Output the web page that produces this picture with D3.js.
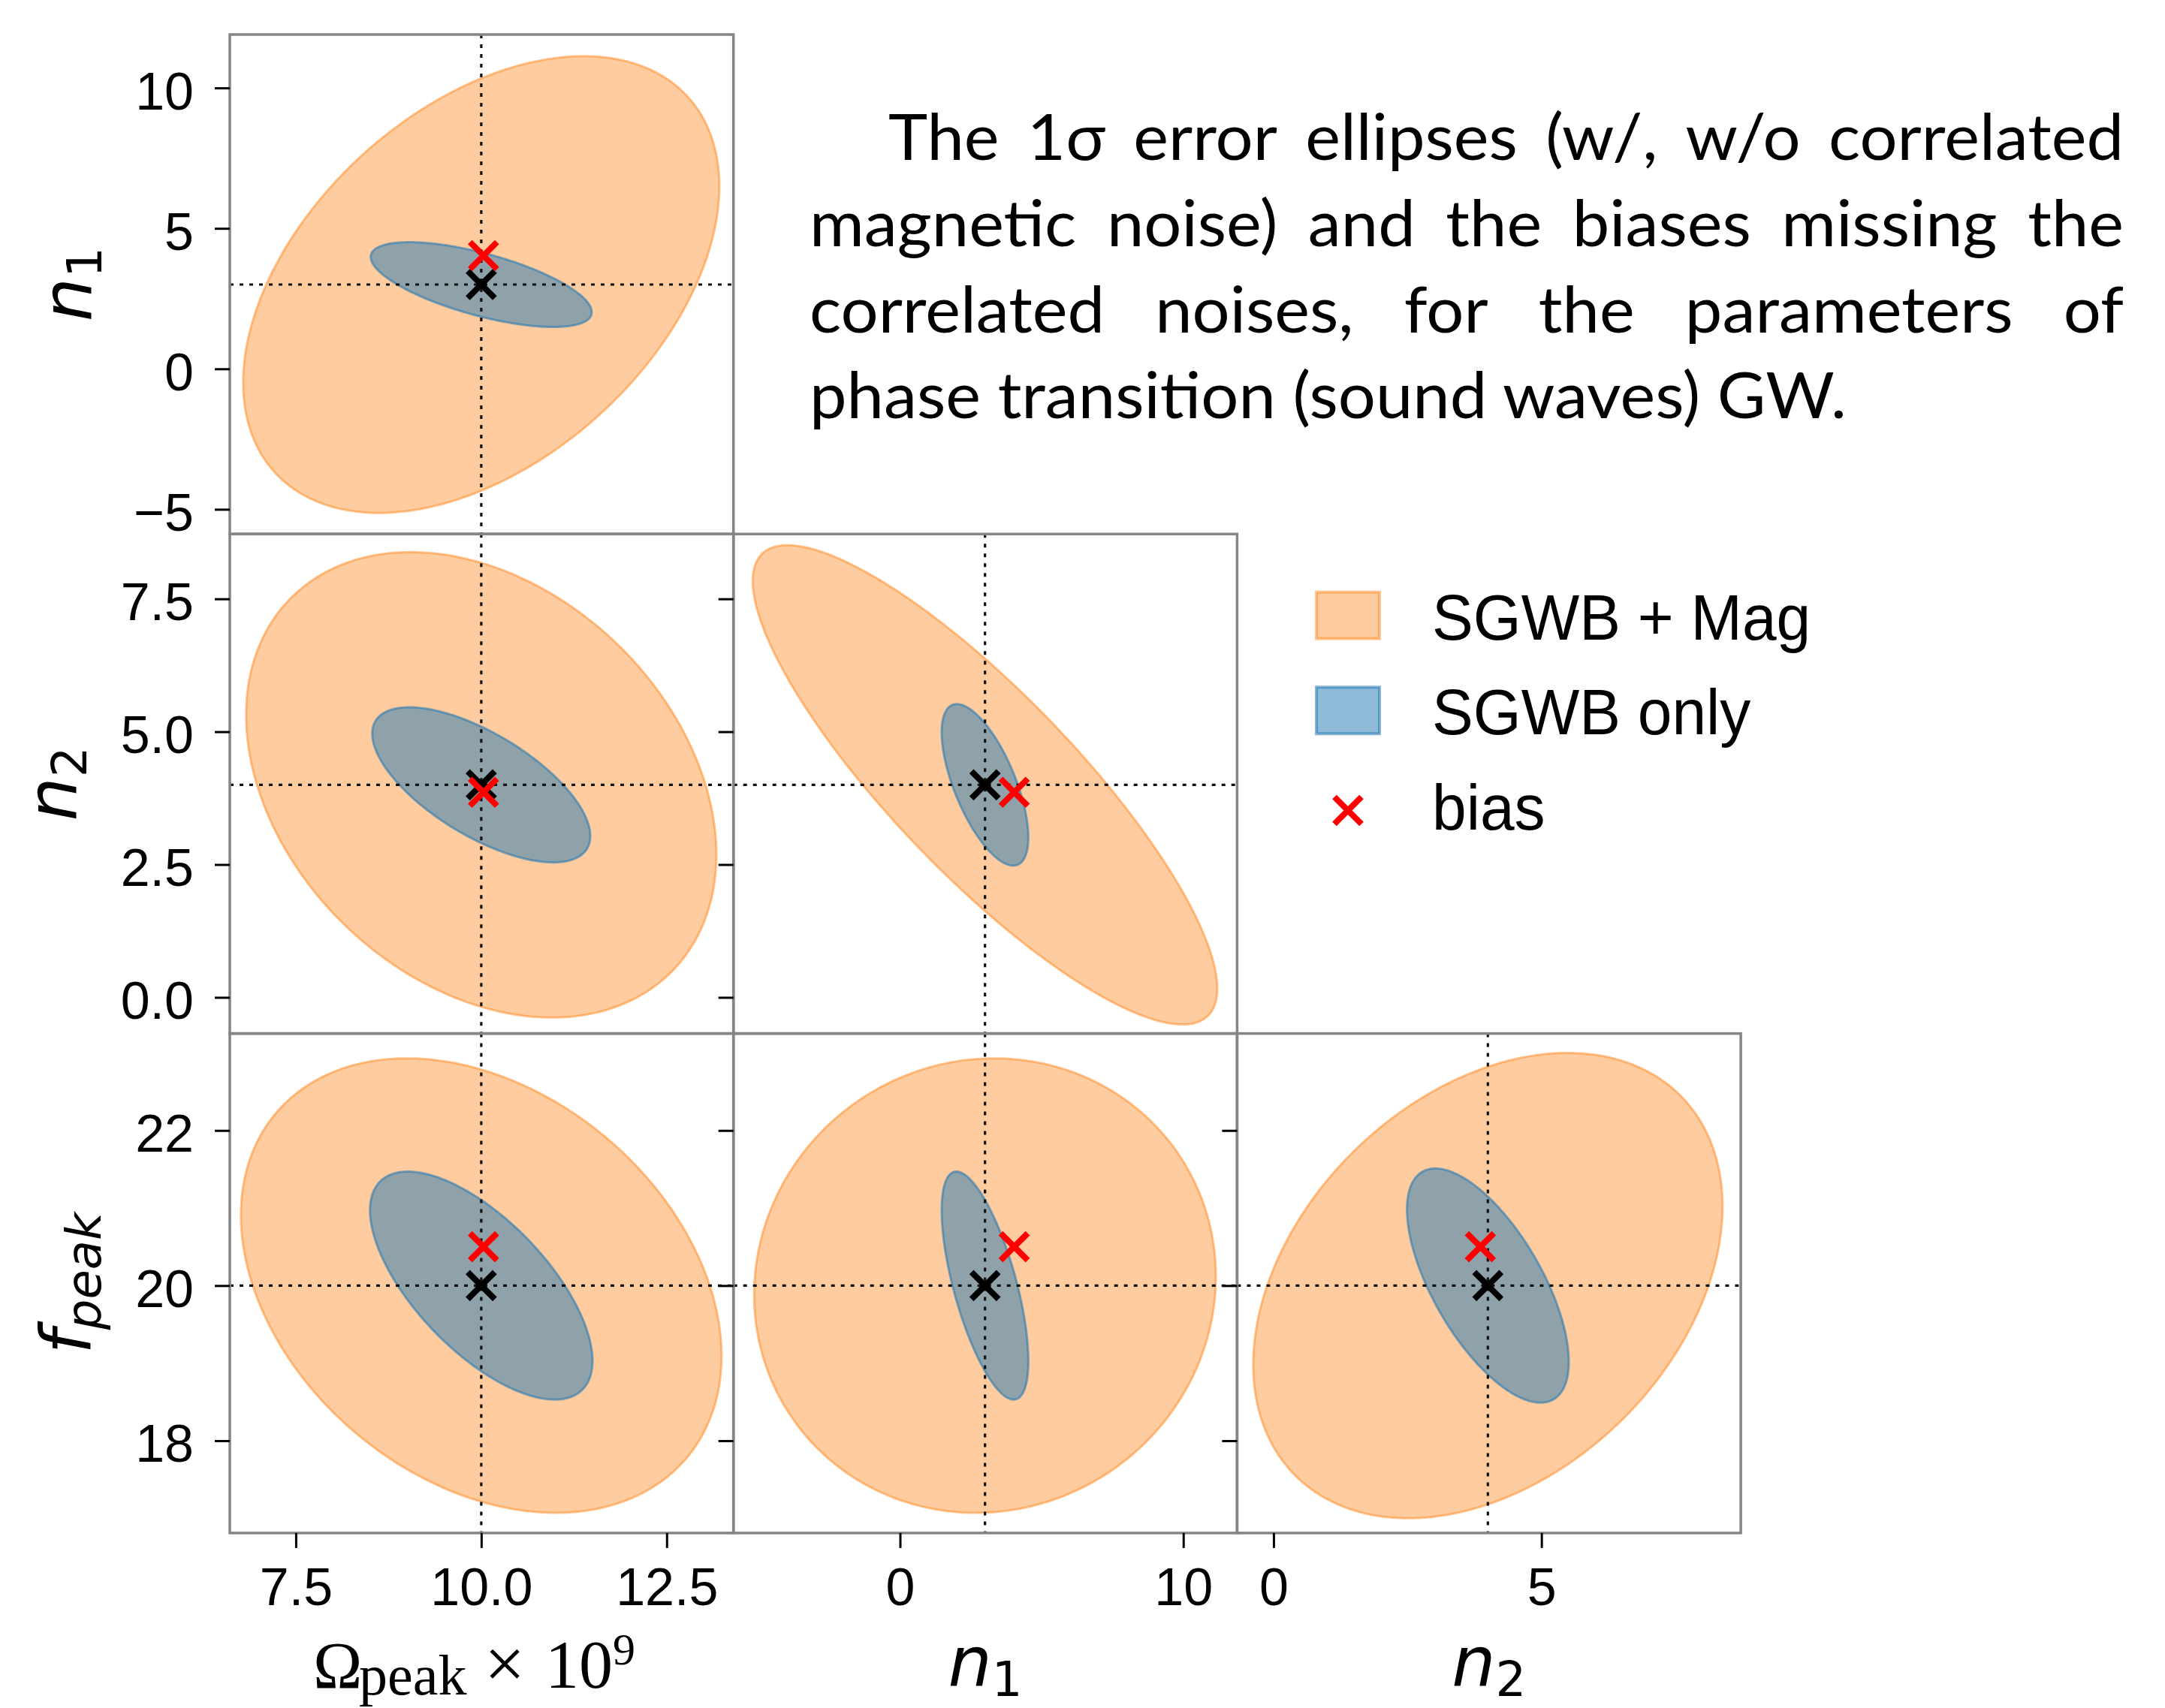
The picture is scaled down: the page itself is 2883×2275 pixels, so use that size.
<!DOCTYPE html>
<html><head><meta charset="utf-8">
<script src="https://cdn.jsdelivr.net/npm/d3@7"></script>
<style>body{margin:0;background:#fff}</style>
</head><body>
<svg id="chart" width="2883" height="2275" xmlns="http://www.w3.org/2000/svg"></svg>
<script>
// ---------------- data ----------------
const paramNames = ["Omega_peak x 1e9", "n1", "n2", "f_peak"];
const trueValues = [10, 3, 4, 20];
const biasValues = [10.03, 4.03, 3.86, 20.5];
const paramDomains = [[6.61, 13.40], [-5.88, 11.90], [-0.68, 8.72], [16.81, 23.25]];
// corner panels: x parameter index / y parameter index
const panelX = [0, 0, 1, 0, 1, 2];
const panelY = [1, 2, 2, 3, 3, 3];
// 1-sigma ellipses: half extents along each axis and correlation
const magHalfX = [3.21, 3.17, 8.20, 3.24, 8.15, 4.38];
const magHalfY = [8.13, 4.38, 4.51, 2.93, 2.93, 3.00];
const magRho   = [0.43, -0.30, -0.85, -0.31, 0.04, 0.34];
const onlyHalfX = [1.49, 1.47, 1.53, 1.50, 1.53, 1.51];
const onlyHalfY = [1.51, 1.46, 1.52, 1.47, 1.47, 1.51];
const onlyRho   = [-0.65, -0.66, -0.65, -0.66, -0.66, -0.65];
const xTickValues = [[7.5, 10, 12.5], [0, 10], [0, 5]];
const xTickLabels = [["7.5", "10.0", "12.5"], ["0", "10"], ["0", "5"]];
const yTickValues = [[-5, 0, 5, 10], [0, 2.5, 5, 7.5], [18, 20, 22]];
const yTickLabels = [["\u22125", "0", "5", "10"], ["0.0", "2.5", "5.0", "7.5"], ["18", "20", "22"]];
const legendLabels = ["SGWB + Mag", "SGWB only", "bias"];
const captionLines = [
  "The 1\u03c3 error ellipses (w/, w/o correlated",
  "magnetic noise) and the biases missing the",
  "correlated noises, for the parameters of",
  "phase transition (sound waves) GW."
];

// ---------------- layout ----------------
const gridLeft = 306, gridTop = 46, cellW = 670.7, cellH = 665.3;
const ORANGE = "#ff7f0e", BLUE = "#1f77b4";
const svg = d3.select("#chart");
svg.append("rect").attr("width", 2883).attr("height", 2275).attr("fill", "#fff");

const xScales = [0, 1, 2].map(c => d3.scaleLinear().domain(paramDomains[c])
  .range([gridLeft + c * cellW, gridLeft + (c + 1) * cellW]));
const yScales = [0, 1, 2].map(r => d3.scaleLinear().domain(paramDomains[r + 1])
  .range([gridTop + (r + 1) * cellH, gridTop + r * cellH]));

const defs = svg.append("defs");
const tickFont = "'Liberation Sans', Arial, sans-serif";

function ellipsePoints(cx, cy, a, b, rho) {
  const s = Math.sqrt(1 - rho * rho);
  return d3.range(0, 360, 1).map(deg => {
    const t = deg * Math.PI / 180;
    return [cx + a * Math.cos(t), cy + b * (rho * Math.cos(t) + s * Math.sin(t))];
  });
}

const pathLine = d3.line().curve(d3.curveLinearClosed);

function xMark(g, px, py, color) {
  const h = 18;
  g.append("path")
    .attr("d", `M${px - h},${py - h}L${px + h},${py + h}M${px - h},${py + h}L${px + h},${py - h}`)
    .attr("stroke", color).attr("stroke-width", 8).attr("fill", "none");
}

panelX.forEach((xp, i) => {
  const yp = panelY[i];
  const col = xp, row = yp - 1;
  const xs = xScales[col], ys = yScales[row];
  const x0 = xs.range()[0], x1 = xs.range()[1];
  const y0 = ys.range()[1], y1 = ys.range()[0];
  const g = svg.append("g");
  const cid = "clip" + i;
  defs.append("clipPath").attr("id", cid).append("rect")
    .attr("x", x0).attr("y", y0).attr("width", x1 - x0).attr("height", y1 - y0);
  const inner = g.append("g").attr("clip-path", `url(#${cid})`);

  const mag = ellipsePoints(trueValues[xp], trueValues[yp], magHalfX[i], magHalfY[i], magRho[i])
    .map(p => [xs(p[0]), ys(p[1])]);
  inner.append("path").attr("d", pathLine(mag))
    .attr("fill", ORANGE).attr("fill-opacity", 0.4)
    .attr("stroke", ORANGE).attr("stroke-opacity", 0.45).attr("stroke-width", 3);
  const only = ellipsePoints(trueValues[xp], trueValues[yp], onlyHalfX[i], onlyHalfY[i], onlyRho[i])
    .map(p => [xs(p[0]), ys(p[1])]);
  inner.append("path").attr("d", pathLine(only))
    .attr("fill", BLUE).attr("fill-opacity", 0.5)
    .attr("stroke", BLUE).attr("stroke-opacity", 0.55).attr("stroke-width", 3);

  // dotted reference lines
  inner.append("line").attr("x1", xs(trueValues[xp])).attr("x2", xs(trueValues[xp]))
    .attr("y1", y0).attr("y2", y1)
    .attr("stroke", "#111").attr("stroke-width", 3.2).attr("stroke-dasharray", "5,8");
  inner.append("line").attr("y1", ys(trueValues[yp])).attr("y2", ys(trueValues[yp]))
    .attr("x1", x0).attr("x2", x1)
    .attr("stroke", "#111").attr("stroke-width", 3.2).attr("stroke-dasharray", "5,8");

  xMark(inner, xs(trueValues[xp]), ys(trueValues[yp]), "#000");
  xMark(inner, xs(biasValues[xp]), ys(biasValues[yp]), "#ff0000");

  // frame
  g.append("rect").attr("x", x0).attr("y", y0).attr("width", x1 - x0).attr("height", y1 - y0)
    .attr("fill", "none").attr("stroke", "#858585").attr("stroke-width", 3.5);

  // y axis ticks (labels only in first column)
  const yAxis = d3.axisLeft(ys).tickValues(yTickValues[row]).tickSize(20).tickPadding(28)
    .tickFormat((d, k) => col === 0 ? yTickLabels[row][k] : "");
  const ya = g.append("g").attr("transform", `translate(${x0},0)`).call(yAxis);
  ya.select(".domain").remove();
  ya.selectAll(".tick line").attr("stroke", "#000").attr("stroke-width", 3);
  ya.selectAll(".tick text").attr("font-family", tickFont).attr("font-size", 70)
    .attr("fill", "#000").attr("dy", "0.4em");

  // x axis ticks only in bottom row
  if (row === 2) {
    const xAxis = d3.axisBottom(xs).tickValues(xTickValues[col]).tickSize(20).tickPadding(26)
      .tickFormat((d, k) => xTickLabels[col][k]);
    const xa = g.append("g").attr("transform", `translate(0,${y1})`).call(xAxis);
    xa.select(".domain").remove();
    xa.selectAll(".tick line").attr("stroke", "#000").attr("stroke-width", 3);
    xa.selectAll(".tick text").attr("font-family", tickFont).attr("font-size", 70)
      .attr("fill", "#000").attr("dy", "0.72em");
  }
});

// ---------------- axis labels ----------------
const mathFont = "'DejaVu Sans', sans-serif";
// y labels
const yLabelX = [122, 102, 121];
const yLabelMain = ["n", "n", "f"];
const yLabelSub = ["1", "2", "peak"];
[0, 1, 2].forEach(r => {
  const cy = gridTop + (r + 0.5) * cellH;
  const t = svg.append("text")
    .attr("transform", `translate(${yLabelX[r]},${cy}) rotate(-90)`)
    .attr("text-anchor", "middle").attr("font-family", mathFont)
    .attr("font-size", 92).attr("fill", "#000");
  t.append("tspan").attr("font-style", "italic").text(yLabelMain[r]);
  t.append("tspan").attr("font-size", 64).attr("dy", 13)
    .attr("font-style", r === 2 ? "italic" : "normal").text(yLabelSub[r]);
});
// x labels
const xLabelBase = 2246;
["1", "2"].forEach((sub, k) => {
  const c = k + 1;
  const cx = gridLeft + (c + 0.5) * cellW;
  const t = svg.append("text").attr("x", cx).attr("y", xLabelBase)
    .attr("text-anchor", "middle").attr("font-family", mathFont)
    .attr("font-size", 92).attr("fill", "#000");
  t.append("tspan").attr("font-style", "italic").text("n");
  t.append("tspan").attr("font-size", 64).attr("dy", 13).text(sub);
});
{
  const serif = "'Liberation Serif', 'Times New Roman', serif";
  const g = svg.append("g").attr("font-family", serif).attr("fill", "#000");
  g.append("text").attr("x", 417).attr("y", 2248).attr("font-size", 88).text("\u03a9");
  g.append("text").attr("x", 478).attr("y", 2257).attr("font-size", 76).text("peak");
  g.append("text").attr("x", 645).attr("y", 2248).attr("font-size", 96).text("\u00d7");
  g.append("text").attr("x", 726).attr("y", 2248).attr("font-size", 90).text("10");
  g.append("text").attr("x", 816).attr("y", 2217).attr("font-size", 60).text("9");
}

// ---------------- legend ----------------
const legX = 1751, legTextX = 1907;
const legBase = [851.7, 978.3, 1105];
const legFont = "'Liberation Sans', Arial, sans-serif";
[ORANGE, BLUE].forEach((c, k) => {
  svg.append("rect").attr("x", legX + 2).attr("y", legBase[k] - 63)
    .attr("width", 84).attr("height", 62)
    .attr("fill", c).attr("fill-opacity", k === 0 ? 0.4 : 0.5)
    .attr("stroke", c).attr("stroke-opacity", k === 0 ? 0.45 : 0.55).attr("stroke-width", 4);
});
xMark(svg, 1795, 1079.5, "#ff0000");
legendLabels.forEach((lab, k) => {
  svg.append("g").attr("transform", `translate(${legTextX},${legBase[k]}) scale(0.955,1)`)
    .append("text").attr("x", 0).attr("y", 0)
    .attr("font-family", legFont).attr("font-size", 86).attr("fill", "#000").text(lab);
});

// ---------------- caption ----------------
const capFont = "Lato, 'Open Sans', sans-serif";
const capSize = 86;
const capBase = [213, 328, 443, 557];
const capStart = [1183, 1078, 1078, 1078];
const capEnd = 2828;
const line4End = 2459;
function measure(str) {
  const t = svg.append("text").attr("font-family", capFont).attr("font-size", capSize)
    .style("white-space", "pre").text(str);
  const w = t.node().getComputedTextLength();
  t.remove();
  return w;
}
const comp = (line4End - capStart[3]) / measure(captionLines[3]);
captionLines.forEach((ln, k) => {
  if (k === 3) {
    svg.append("g").attr("transform", `translate(${capStart[k]},${capBase[k]}) scale(${comp},1)`)
      .append("text").attr("font-family", capFont).attr("font-size", capSize)
      .style("white-space", "pre").attr("fill", "#000").text(ln);
    return;
  }
  const words = ln.split(" ");
  const widths = words.map(w => measure(w) * comp);
  const total = d3.sum(widths);
  const gap = (capEnd - capStart[k] - total) / (words.length - 1);
  let x = capStart[k];
  words.forEach((w, j) => {
    svg.append("g").attr("transform", `translate(${x},${capBase[k]}) scale(${comp},1)`)
      .append("text").attr("font-family", capFont).attr("font-size", capSize)
      .attr("fill", "#000").text(w);
    x += widths[j] + gap;
  });
});
</script>
</body></html>
